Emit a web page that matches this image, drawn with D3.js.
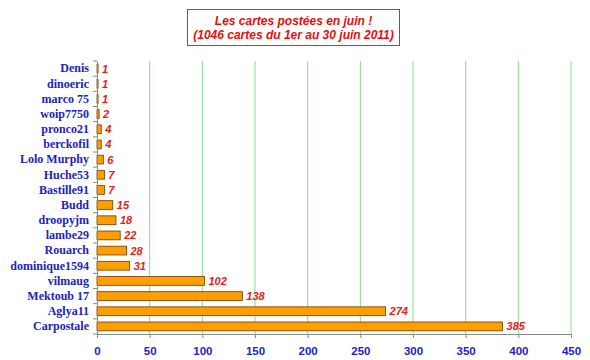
<!DOCTYPE html>
<html><head><meta charset="utf-8">
<script src="https://cdn.jsdelivr.net/npm/d3@7"></script>
<style>body{margin:0;background:#fff}</style>
</head><body>
<svg id="c" width="590" height="360"></svg>
<script>
const categories = ["Denis","dinoeric","marco 75","woip7750","pronco21","berckofil","Lolo Murphy","Huche53","Bastille91","Budd","droopyjm","lambe29","Rouarch","dominique1594","vilmaug","Mektoub 17","Aglya11","Carpostale"];
const values = [1,1,1,2,4,4,6,7,7,15,18,22,28,31,102,138,274,385];
const xTicks = [0,50,100,150,200,250,300,350,400,450];
const titleLines = ["Les cartes postées en juin !","(1046 cartes du 1er au 30 juin 2011)"];

(function(){
const svg = d3.select("#c");
const pL = 97, pR = 571, pT = 61, pB = 334;
const x = d3.scaleLinear().domain([0,450]).range([pL,pR]);
const y = d3.scaleBand().domain(categories).range([pT,pB]).paddingInner(0.42).paddingOuter(0.21);

svg.append("g").selectAll("line").data(xTicks.filter(d=>d>0)).join("line")
  .attr("x1",d=>x(d)).attr("x2",d=>x(d)).attr("y1",pT).attr("y2",pB)
  .attr("stroke","#8fd88f").attr("stroke-width",1);

svg.append("g").selectAll("rect").data(values).join("rect")
  .attr("x",x(0)).attr("y",(d,i)=>y(categories[i]))
  .attr("width",d=>x(d)-x(0)).attr("height",y.bandwidth())
  .attr("fill","#ff9e00").attr("stroke","#6b3a00").attr("stroke-width",0.8);

svg.append("g").selectAll("text").data(values).join("text")
  .attr("x",d=>x(d)+4).attr("y",(d,i)=>y(categories[i])+y.bandwidth()/2)
  .attr("dy","0.36em")
  .attr("font-family","Liberation Sans, Arial, sans-serif").attr("font-weight","bold").attr("font-style","italic")
  .attr("font-size",11).attr("fill","#dd2222").text(d=>d);

const xa = svg.append("g").attr("transform",`translate(0,${pB})`)
  .call(d3.axisBottom(x).tickValues(xTicks).tickSize(4).tickSizeOuter(0));
xa.select(".domain").attr("stroke","#888");
xa.selectAll(".tick line").attr("stroke","#888");
xa.selectAll(".tick text").attr("fill","#2222cc").attr("font-family","Liberation Sans, Arial, sans-serif")
  .attr("font-weight","bold").attr("font-size",11.5).attr("dy","1.2em");

const ya = svg.append("g").attr("transform",`translate(${pL},0)`)
  .call(d3.axisLeft(y).tickSize(0).tickPadding(8));
ya.select(".domain").attr("stroke","#888");
ya.selectAll(".tick text").attr("fill","#2222bb").attr("font-family","Liberation Serif, serif")
  .attr("font-weight","bold").attr("font-size",12);
const n = categories.length;
svg.append("g").selectAll("line").data(d3.range(n+1)).join("line")
  .attr("x1",pL-4).attr("x2",pL).attr("y1",i=>pT+i*(pB-pT)/n).attr("y2",i=>pT+i*(pB-pT)/n)
  .attr("stroke","#888");

svg.append("rect").attr("x",187.5).attr("y",9.5).attr("width",212).attr("height",36)
  .attr("fill","#fff").attr("stroke","#d03030").attr("stroke-width",1);
svg.append("g").selectAll("text").data(titleLines).join("text")
  .attr("x",293.5).attr("y",(d,i)=>25+i*14).attr("text-anchor","middle")
  .attr("font-family","Liberation Sans, Arial, sans-serif").attr("font-weight","bold").attr("font-style","italic")
  .attr("font-size",12).attr("fill","#dd1111").text(d=>d);
})();
</script>
</body></html>
